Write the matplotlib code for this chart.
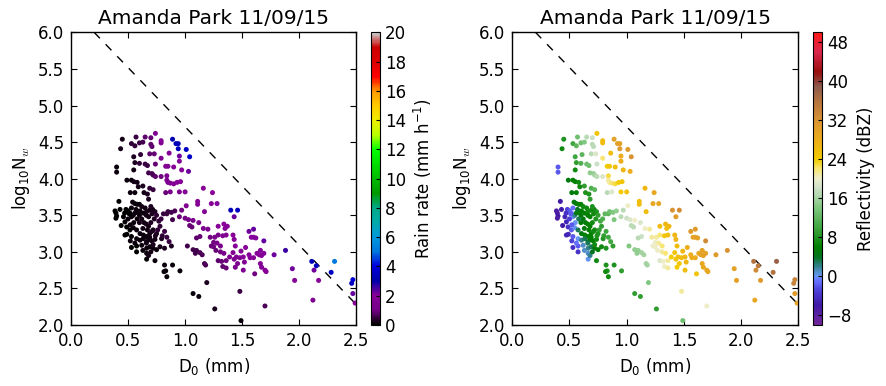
import numpy as np
import matplotlib
matplotlib.use("Agg")
import matplotlib.pyplot as plt
from matplotlib.colors import LinearSegmentedColormap

# ---- data (D0 in mm, log10 Nw, rain rate mm/h, reflectivity dBZ) ----
pts = [
    (0.45,4.54,0.2,8),(0.435,4.41,0.2,7),(0.57,4.57,0.5,13),(0.53,4.48,0.4,10),(0.56,4.45,0.4,12),
    (0.60,4.49,0.5,13),(0.63,4.50,0.6,14),(0.65,4.57,0.8,17),(0.70,4.56,0.9,18),(0.74,4.62,1.6,25),
    (0.79,4.52,1.7,26),(0.79,4.49,1.7,26),(0.70,4.47,0.8,17),(0.71,4.44,0.8,17),(0.89,4.54,3.2,30),
    (0.92,4.48,3.3,30),(0.94,4.48,3.3,30),(0.94,4.41,3.4,31),(1.01,4.40,3.5,31),(1.04,4.30,3.6,32),
    (0.55,4.30,0.3,10),(0.61,4.33,0.4,12),(0.69,4.34,0.8,17),(0.73,4.34,0.9,19),(0.79,4.28,1.5,22),
    (0.86,4.35,1.9,26),(0.95,4.31,2.2,28),(0.56,4.22,0.3,9),(0.55,4.12,0.2,7),(0.60,4.21,0.4,11),
    (0.65,4.20,0.5,13),(0.67,4.18,0.5,13),(0.74,4.20,0.9,18),(0.83,4.17,1.6,24),(0.85,4.17,1.7,25),
    (0.95,4.24,2.1,28),(0.90,4.16,1.9,26),(0.40,4.16,0.1,-2),(0.40,4.09,0.1,-2),(0.68,4.08,0.6,15),
    (0.71,4.07,0.7,15),(0.72,4.05,0.7,16),(0.74,4.03,0.8,17),(0.79,4.03,1.0,19),(0.84,4.04,1.5,23),
    (0.97,4.12,2.0,27),(1.03,4.10,2.2,28),(0.49,3.98,0.1,5),(0.53,3.98,0.1,6),(0.55,3.96,0.2,6),
    (0.58,3.95,0.2,7),(0.63,3.90,0.3,9),(0.69,3.87,0.4,11),(0.72,3.85,0.5,12),(0.84,3.98,1.4,21),
    (0.85,3.95,1.5,21),(0.87,3.94,1.6,22),(0.90,3.93,1.7,23),(0.93,3.95,1.8,24),(0.96,3.96,1.9,25),
    (0.83,3.81,0.9,17),(0.87,3.82,1.3,19),(0.95,3.82,1.5,24),(1.00,3.82,1.7,25),(1.16,3.87,1.9,27),
    (1.24,3.81,2.0,29),(0.52,3.81,0.1,5),(0.56,3.81,0.1,6),(0.59,3.89,0.2,7),(0.64,3.81,0.2,8),
    (0.67,3.79,0.3,8),(0.68,3.72,0.3,9),(0.42,3.69,0.05,-6),(0.54,3.68,0.1,5),(0.56,3.66,0.1,5),
    (0.58,3.65,0.1,6),(0.60,3.65,0.1,6),(1.11,3.69,1.8,26),(1.11,3.65,1.8,26),(1.23,3.66,2.0,29),
    (1.28,3.66,2.1,29),(1.17,3.55,1.7,26),(1.40,3.57,3.3,32),(1.46,3.57,3.4,33),(1.43,3.48,2.3,31),
    (1.01,3.63,1.6,20),(0.97,3.57,1.0,17),
    (0.386,3.56,0.05,-7),(0.394,3.53,0.05,-7),(0.40,3.49,0.05,-6),(0.394,3.46,0.05,-7),(0.473,3.41,0.05,-5),
    (0.482,3.58,0.05,-3),(0.50,3.56,0.05,-2),(0.517,3.53,0.05,-1),(0.53,3.48,0.1,0),(0.546,3.50,0.1,2),
    (0.56,3.53,0.1,4),(0.575,3.54,0.1,6),(0.605,3.56,0.15,6),(0.634,3.53,0.15,6),(0.663,3.55,0.2,7),
    (0.69,3.57,0.2,7),(0.716,3.58,0.2,7),(0.736,3.55,0.3,8),(0.488,3.34,0.05,-4),(0.517,3.30,0.05,-2),
    (0.546,3.33,0.1,0),(0.575,3.30,0.1,3),(0.605,3.25,0.1,5),(0.634,3.23,0.15,6),(0.663,3.21,0.15,6),
    (0.69,3.25,0.2,6),(0.72,3.30,0.2,7),(0.75,3.25,0.3,8),(0.473,3.23,0.05,-5),(0.53,3.21,0.05,-2),
    (0.575,3.18,0.1,0),(0.605,3.16,0.1,2),(0.634,3.18,0.1,3),(0.663,3.14,0.15,4),(0.686,3.17,0.15,5),
    (0.707,3.15,0.2,6),(0.736,3.17,0.2,7),(0.794,3.18,0.3,8),(0.53,3.06,0.05,-4),(0.575,3.08,0.05,-2),
    (0.62,3.09,0.1,1),(0.663,3.05,0.1,2),(0.69,3.07,0.1,3),(0.72,3.05,0.15,5),(0.78,3.07,0.2,7),
    (0.82,3.05,0.3,8),(0.88,3.08,0.3,9),(0.575,3.00,0.05,-4),(0.663,2.98,0.1,1),(0.75,3.03,0.15,6),
    (0.663,2.90,0.05,0),(0.736,2.88,0.1,7),(0.82,2.82,0.1,8),(0.89,2.82,0.1,8),(0.83,2.74,0.1,8),
    (0.815,2.73,0.1,7),(0.84,2.66,0.1,7),(0.955,2.74,0.1,9),
    (0.62,3.45,0.2,5),(0.64,3.40,0.2,5),(0.66,3.38,0.2,6),(0.68,3.35,0.2,6),(0.70,3.40,0.3,7),
    (0.63,3.32,0.2,5),(0.67,3.30,0.2,6),(0.71,3.28,0.3,7),(0.69,3.20,0.2,6),(0.66,3.12,0.2,3),
    (0.60,3.40,0.2,5),(0.58,3.45,0.1,3),(0.55,3.40,0.1,0),(0.52,3.37,0.1,-2),(0.50,3.45,0.1,-3),
    (0.46,3.48,0.05,-5),(0.44,3.36,0.05,-6),(0.49,3.24,0.05,-5),(0.52,3.15,0.1,-3),(0.56,3.12,0.1,-1),
    (0.63,3.02,0.15,1),(0.68,2.95,0.2,2),(0.70,3.00,0.2,4),(0.72,3.10,0.3,7),(0.74,3.22,0.3,8),
    (0.76,3.30,0.4,9),(0.78,3.35,0.4,9),(0.80,3.22,0.4,9),(0.82,3.28,0.5,10),(0.84,3.20,0.5,10),
    (0.86,3.14,0.5,10),(0.84,3.52,0.5,12),(0.81,3.52,0.5,12),(0.85,3.55,0.5,13),(0.88,3.54,0.6,14),
    (0.91,3.56,0.7,15),(0.89,3.44,0.6,14),(0.95,3.48,0.9,17),(1.00,3.46,1.0,18),(1.03,3.44,1.1,19),
    (1.07,3.43,1.2,20),(1.04,3.36,0.9,17),(1.06,3.34,0.9,17),(1.12,3.40,1.1,19),(1.16,3.32,1.3,20),
    (1.20,3.31,1.4,21),(1.13,3.21,0.9,18),(1.10,3.19,0.8,17),(1.02,3.08,0.6,14),(1.07,3.03,0.6,15),
    (1.10,3.02,0.6,15),(1.13,2.99,0.7,16),(1.15,2.96,0.7,16),(1.09,2.98,0.6,15),(1.17,2.84,0.7,16),
    (1.18,2.82,0.7,16),
    (0.62,3.62,0.2,7),(0.65,3.60,0.2,7),(0.70,3.62,0.3,8),(0.66,3.50,0.2,6),(0.68,3.48,0.2,6),
    (0.71,3.52,0.3,7),(0.73,3.45,0.3,8),(0.75,3.50,0.4,9),(0.77,3.42,0.4,10),(0.79,3.45,0.5,11),
    (0.60,3.50,0.15,5),(0.57,3.58,0.1,4),(0.53,3.60,0.1,-1),(0.51,3.52,0.05,-2),(0.47,3.53,0.05,-4),
    (0.43,3.58,0.05,-6),
    (1.22,3.20,1.0,21),(1.26,3.20,1.1,21),(1.29,3.23,1.2,22),(1.25,3.13,1.0,20),(1.28,3.12,1.1,21),
    (1.23,3.08,0.9,20),(1.25,3.07,1.0,20),(1.31,3.08,1.2,22),(1.29,3.35,1.9,26),(1.34,3.38,2.0,27),
    (1.37,3.35,2.0,27),(1.35,3.32,1.9,26),(1.27,3.02,0.9,20),(1.31,3.00,1.0,21),(1.34,2.98,1.1,22),
    (1.29,2.88,0.8,19),(1.32,2.87,0.9,20),(1.36,2.88,1.0,21),(1.33,2.80,0.8,20),(1.36,2.78,0.9,21),
    (1.39,2.93,1.4,24),(1.36,3.23,1.7,26),(1.33,3.22,1.6,25),(1.42,3.23,1.9,27),(1.43,3.17,1.9,27),
    (1.44,3.08,1.8,26),(1.42,2.99,1.6,25),(1.45,2.93,1.6,26),(1.43,2.90,1.5,25),(1.48,2.92,1.7,26),
    (1.46,2.84,1.4,25),(1.44,2.79,1.3,24),(1.49,3.01,1.8,27),(1.53,3.06,2.0,28),(1.51,2.93,1.8,27),
    (1.52,2.86,1.7,27),(1.51,2.75,1.5,26),(1.56,3.28,2.2,31),(1.60,3.31,2.3,31),(1.58,3.20,2.1,30),
    (1.60,3.20,2.1,30),(1.62,3.19,2.1,30),(1.56,2.96,1.8,28),(1.57,2.92,1.8,28),(1.60,2.92,1.9,28),
    (1.63,2.98,2.0,29),(1.61,2.70,1.0,25),(1.66,3.02,2.1,30),(1.65,2.96,2.0,30),(1.67,2.95,2.0,30),
    (1.69,2.98,2.1,30),(1.66,2.84,1.8,29),(1.67,2.79,1.7,29),(1.69,3.15,2.3,33),(1.70,2.75,1.9,29),
    (1.71,2.73,1.9,29),(1.78,2.96,2.2,31),(1.88,3.02,2.6,32),(1.94,2.77,2.2,30),(1.96,2.61,2.0,30),
    (2.11,2.87,3.3,36),(2.15,2.81,3.5,35),(2.13,2.75,2.2,33),(2.17,2.61,2.0,31),(2.12,2.34,1.5,29),
    (2.28,2.72,3.5,36),(2.31,2.87,5.0,38),(2.47,2.62,3.8,34),(2.46,2.57,3.4,34),(2.47,2.43,2.3,31),
    (2.49,2.30,2.0,30),
    (1.07,2.43,0.1,9),(1.12,2.39,0.1,9),(1.19,2.58,0.3,14),(1.26,2.22,0.3,9),(1.48,2.46,0.5,21),
    (1.49,2.06,0.1,13),(1.70,2.26,0.7,20),
]
d0 = [p[0] for p in pts]
log_nw = [p[1] for p in pts]
rain_rate = [p[2] for p in pts]
reflectivity = [p[3] for p in pts]

line_x = [0.0, 2.5]
line_intercept = 6.33
line_slope = -1.62

title = "Amanda Park 11/09/15"
rr_ticks = list(range(0, 21, 2))
dbz_ticks = list(range(-8, 49, 8))

# ---- style ----
plt.rcParams['font.family'] = ['DejaVu Sans']
plt.rcParams['mathtext.fontset'] = 'cm'
plt.rcParams['mathtext.default'] = 'regular'

# reflectivity colormap
dbz_nodes = [
    (-10, (0.45, 0.15, 0.60)), (-6, (0.25, 0.10, 0.65)), (-3, (0.30, 0.25, 0.85)),
    (-1, (0.40, 0.45, 1.00)), (0, (0.40, 0.60, 0.95)), (2, (0.20, 0.50, 0.55)),
    (4, (0.00, 0.45, 0.10)), (6, (0.00, 0.50, 0.00)), (10, (0.25, 0.65, 0.25)),
    (14, (0.50, 0.78, 0.50)), (18, (0.80, 0.88, 0.78)), (20, (0.93, 0.93, 0.80)),
    (22, (0.97, 0.90, 0.45)), (24, (0.95, 0.80, 0.00)), (28, (0.93, 0.68, 0.10)),
    (32, (0.85, 0.58, 0.20)), (36, (0.70, 0.45, 0.25)), (39, (0.55, 0.35, 0.30)),
    (42, (0.60, 0.05, 0.05)), (46, (0.85, 0.15, 0.30)), (50, (1.00, 0.10, 0.10)),
]
dbz_cmap = LinearSegmentedColormap.from_list(
    'refl', [((v + 10) / 60.0, c) for v, c in dbz_nodes])

fig = plt.figure(figsize=(8.86, 3.86), dpi=100)
fig.patch.set_facecolor('white')

ax1 = fig.add_axes([0.0801, 0.158, 0.322, 0.758])
cax1 = fig.add_axes([0.4187, 0.158, 0.0105, 0.758])
ax2 = fig.add_axes([0.5782, 0.158, 0.3228, 0.758])
cax2 = fig.add_axes([0.918, 0.158, 0.0100, 0.758])

def style_ax(ax):
    ax.set_xlim(0, 2.5)
    ax.set_ylim(2.0, 6.0)
    ax.set_xticks(np.arange(0, 2.51, 0.5))
    ax.set_yticks(np.arange(2.0, 6.01, 0.5))
    ax.xaxis.set_major_formatter(matplotlib.ticker.FormatStrFormatter('%.1f'))
    ax.yaxis.set_major_formatter(matplotlib.ticker.FormatStrFormatter('%.1f'))
    ax.tick_params(direction='in', top=True, right=True, length=4, width=0.8,
                   labelsize=12, pad=5)
    for s in ax.spines.values():
        s.set_linewidth(1.0)
    ax.set_xlabel(r'D$_0$ (mm)', fontsize=12)
    ax.set_ylabel(r'log$_{10}$N$_{\mathit{w}}$', fontsize=12)
    ax.set_title(title, fontsize=14.5)
    lx = np.array(line_x)
    ax.plot(lx, line_intercept + line_slope * lx, color='black', lw=1.0,
            dashes=(6, 6))

sc1 = ax1.scatter(d0, log_nw, c=rain_rate, cmap='nipy_spectral', vmin=0, vmax=20,
                  s=13, linewidths=0, zorder=3)
style_ax(ax1)
cb1 = fig.colorbar(sc1, cax=cax1, ticks=rr_ticks)
cb1.set_label(r'Rain rate (mm h$^{-1}$)', fontsize=12)
cb1.ax.tick_params(labelsize=12, direction='in', length=3)

sc2 = ax2.scatter(d0, log_nw, c=reflectivity, cmap=dbz_cmap, vmin=-10, vmax=50,
                  s=13, linewidths=0, zorder=3)
style_ax(ax2)
cb2 = fig.colorbar(sc2, cax=cax2, ticks=dbz_ticks)
cb2.set_label('Reflectivity (dBZ)', fontsize=12)
cb2.ax.tick_params(labelsize=12, direction='in', length=3)

fig.savefig('out.png', dpi=100, facecolor='white')
